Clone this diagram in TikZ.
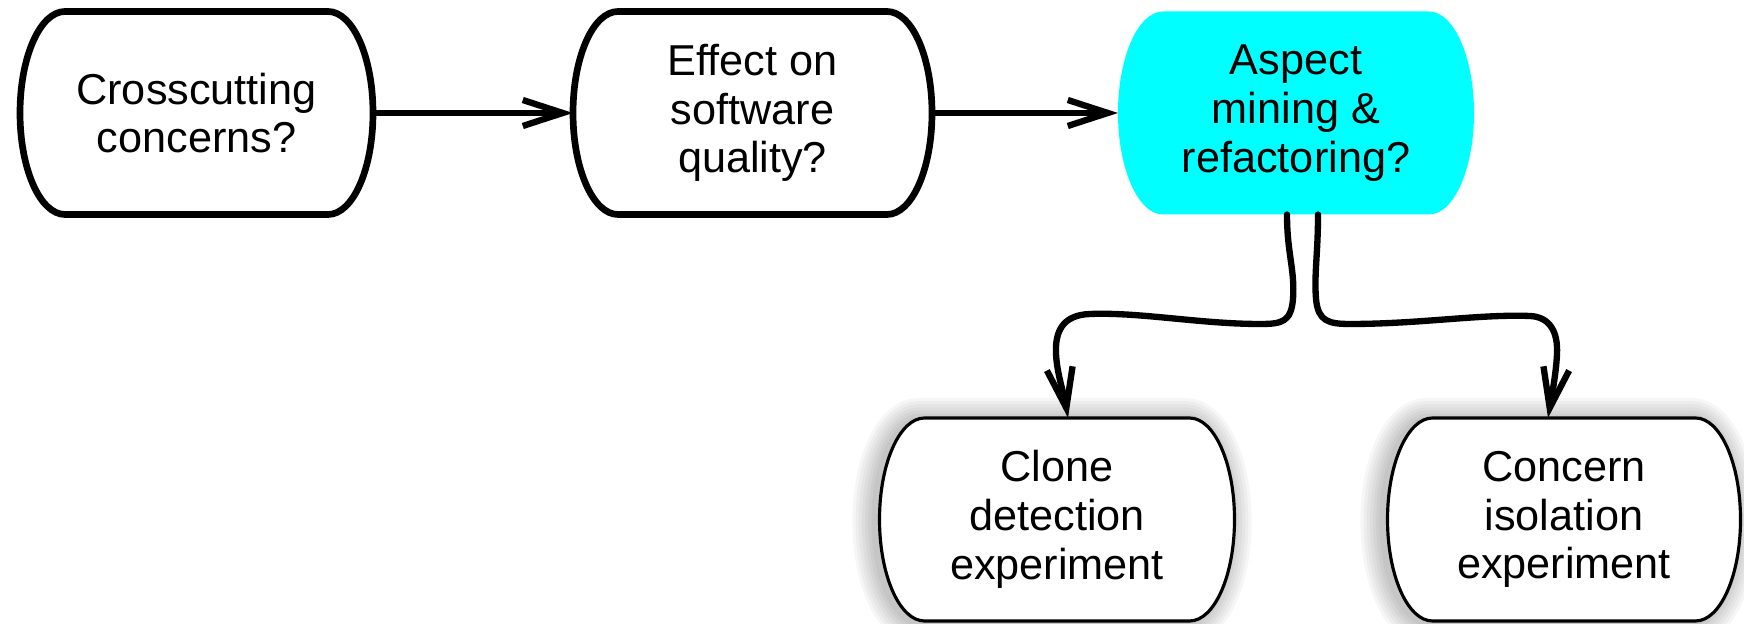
\documentclass[tikz,border=0pt]{standalone}
\usepackage{fontspec}
\setmainfont{Liberation Sans}
\usetikzlibrary{arrows.meta,positioning,calc,backgrounds}
\definecolor{aspectcyan}{RGB}{0,255,255}
\newcommand{\bulge}{0.45cm}
\tikzset{
  stage/.style={rectangle, draw=none, inner sep=0pt, outer sep=0pt,
                minimum width=3.55cm, minimum height=2.03cm, align=center,
                font=\fontsize{12.3}{13.9}\selectfont},
  rim/.style={line width=1.9pt},
  thinrim/.style={line width=0.9pt},
  flow/.style={-{Straight Barb[length=4mm,width=2.6mm]}, line width=1.8pt},
}
% barrel outline round a stage node: flat top and bottom, elliptic sides
\newcommand{\barrel}[2][]{%
  \path[#1] ($(#2.north west)+(\bulge,0)$) -- ($(#2.north east)+(-\bulge,0)$)
    arc[start angle=90, end angle=-90, x radius=\bulge, y radius=1.015cm]
    -- ($(#2.south west)+(\bulge,0)$)
    arc[start angle=270, end angle=90, x radius=\bulge, y radius=1.015cm] -- cycle;}

\begin{document}
\begin{tikzpicture}
  \useasboundingbox (0,0) rectangle (17.44,6.24);
  % top row
  \node[stage, minimum width=3.53cm] (cross) at (1.965,5.11) {Crosscutting\\concerns?};
  \node[stage, minimum width=3.59cm, right=2cm of cross] (effect) {Effect on\\software\\quality?};
  \node[stage, minimum width=3.56cm, right=1.86cm of effect] (mining) {Aspect\\mining \&\\refactoring?};
  % experiments
  \node[stage] (clone) at (10.57,1.045) {Clone\\detection\\experiment};
  \node[stage, minimum width=3.53cm, right=1.53cm of clone] (isolate) {Concern\\isolation\\experiment};

  \begin{scope}[on background layer]
    \barrel[draw, rim]{cross}
    \barrel[draw, rim]{effect}
    \barrel[fill=aspectcyan]{mining}
    \foreach \n in {clone,isolate}{
      \foreach \w [evaluate=\w as \lw using \w*1.8] in {1,...,7}{
        \barrel[draw=black, line width=\lw pt, opacity=0.035,
                transform canvas={shift={(-0.05,-0.02)}}]{\n}
      }
      \barrel[draw, thinrim, fill=white]{\n}
    }
  \end{scope}

  \draw[flow] (cross.east) -- (effect.west);
  \draw[flow] (effect.east) -- (mining.west);
  \draw[flow, line cap=round] ($(mining.south)+(-0.09,0)$) .. controls (12.87,3.7) and (12.95,3.55) .. (12.93,3.25)
    .. controls (12.91,3.02) and (12.82,3.0) .. (12.6,3.0)
    .. controls (12.0,3.0) and (11.4,3.12) .. (10.9,3.1)
    .. controls (10.62,3.09) and (10.55,2.92) .. (10.56,2.7)
    .. controls (10.57,2.5) and (10.64,2.3) .. ($(clone.north)+(0.11,0)$);
  \draw[flow, line cap=round] ($(mining.south)+(0.22,0)$) .. controls (13.18,3.7) and (13.14,3.5) .. (13.16,3.25)
    .. controls (13.18,3.03) and (13.28,3.0) .. (13.5,3.0)
    .. controls (14.2,3.0) and (14.8,3.1) .. (15.3,3.08)
    .. controls (15.5,3.07) and (15.58,2.92) .. (15.57,2.7)
    .. controls (15.56,2.5) and (15.52,2.3) .. ($(isolate.north)+(-0.16,0)$);
\end{tikzpicture}
\end{document}
